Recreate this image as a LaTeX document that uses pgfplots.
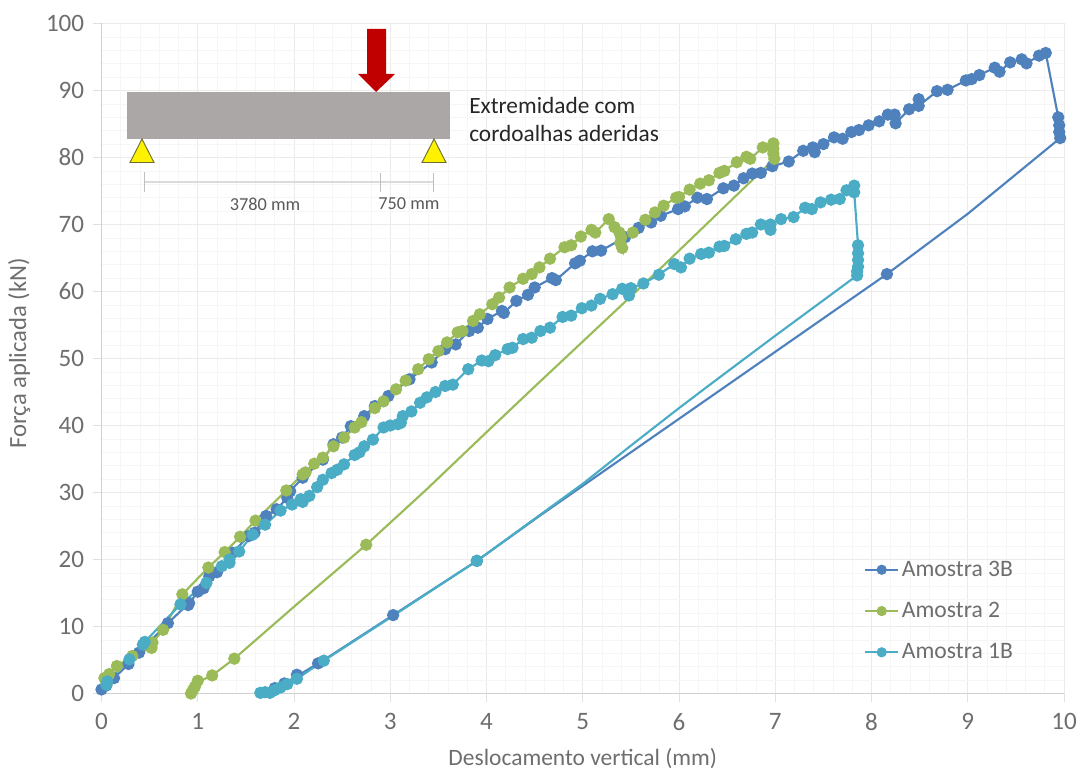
\documentclass[border=0pt]{standalone}
\usepackage{pgfplots}
\usepackage{fontspec}
\setmainfont{Carlito}
\pgfplotsset{compat=1.18}
\definecolor{txt}{HTML}{6E6E6E}
\definecolor{cA}{HTML}{4F81BD}
\definecolor{cB}{HTML}{9BBB59}
\definecolor{cC}{HTML}{4BACC6}
\definecolor{beam}{HTML}{ABA7A6}
\definecolor{arrowred}{HTML}{C00000}
\begin{document}
\begin{tikzpicture}[x=1pt,y=1pt]
\path[use as bounding box] (0,0) rectangle (810pt,578.25pt);
\begin{axis}[
  at={(76.125pt,58.125pt)},anchor=south west,
  scale only axis,width=721.9pt,height=502.5pt,
  xmin=0,xmax=10,ymin=0,ymax=100,
  xtick={0,...,10},ytick={0,10,...,100},
  minor tick num=4,
  grid=both,
  major grid style={draw=black!8,line width=0.7pt},
  minor grid style={draw=black!3.5,line width=0.5pt},
  tick align=outside,
  major tick length=6pt,minor tick length=0pt,
  tick style={draw=black!12,line width=0.7pt},
  axis x line*=bottom,axis y line*=left,
  axis line style={draw=black!18,line width=0.9pt,-},
  ticklabel style={text=txt,font=\fontsize{18.8}{20}\selectfont},
  /pgf/number format/assume math mode=true,
  x tick label style={yshift=-5.5pt},
  y tick label style={xshift=-3.5pt},
  xlabel={Deslocamento vertical (mm)},
  ylabel={Força aplicada (kN)},
  label style={text=txt},
  xlabel style={font=\fontsize{17.6}{19}\selectfont,yshift=-6pt},
  ylabel style={font=\fontsize{18.5}{20}\selectfont,yshift=5pt,xshift=4pt},
  legend style={at={(axis cs:7.92,20.2)},anchor=north west,draw=none,fill=none,
    row sep=14pt,font=\fontsize{17.7}{17.7}\selectfont,text=txt,
    cells={anchor=west},inner sep=0pt},
  legend image code/.code={
    \draw[#1,mark=none,line width=1.4pt] (0pt,0pt) -- (25pt,0pt);
    \path plot[#1,mark=*,mark size=3pt,mark options={solid}] coordinates {(12.5pt,0pt)};
  },
  every axis plot/.append style={line width=1.6pt,mark=*,mark size=3.8pt},
]
% Amostra 3B
\addplot[color=cA,mark options={fill=cA,draw=cA}] coordinates {
(0,0.6)(0.05,1.2)(0.13,2.3)(0.28,4.4)(0.39,6.1)(0.69,10.5)(0.91,13.5)(0.9,13.2)(1,15.2)(1.06,15.7)(1.12,17.5)(1.2,18.1)(1.36,21)(1.53,23.5)(1.59,24)(1.71,26.5)(1.82,27.5)(1.93,29.2)(1.96,30.2)(2.09,32.2)(2.3,34.9)(2.41,37.2)(2.5,38.2)(2.59,39.9)(2.73,41.4)(2.84,42.9)(2.98,44.4)(3.2,46.9)(3.43,49.4)(3.57,51.4)(3.68,52.1)(3.82,54.1)(3.91,54.6)(4.01,55.9)(4.16,57.1)(4.18,56.8)(4.31,58.6)(4.43,59.5)(4.5,60.6)(4.68,62)(4.72,61.7)(4.92,64.2)(4.97,64.6)(5.1,66)(5.19,66.1)(5.44,68.1)(5.58,69.5)(5.71,70.3)(5.81,71.3)(5.99,72.3)(6.06,72.7)(6.19,74)(6.29,73.8)(6.46,75.4)(6.57,75.8)(6.67,76.9)(6.76,77.6)(6.85,77.7)(6.97,78.7)(7.14,79.4)(7.29,81)(7.39,81.5)(7.41,80.8)(7.5,82)(7.61,83)(7.7,82.8)(7.79,83.8)(7.87,84.1)(7.97,84.8)(8.08,85.4)(8.17,86.4)(8.24,86.4)(8.25,85.1)(8.39,87.2)(8.49,88.7)(8.49,87.7)(8.68,89.9)(8.79,90.1)(8.98,91.5)(9.04,91.7)(9.12,92.3)(9.28,93.4)(9.33,92.8)(9.44,94.2)(9.56,94.65)(9.61,94.05)(9.74,95.2)(9.81,95.6)(9.94,86)(9.95,84.8)(9.95,83.8)(9.96,82.9)
};
\addlegendentry{Amostra 3B}
\addplot[color=cA,mark=none,forget plot] coordinates {
(9.96,82.9)(9,71.6)(8.16,62.6)(7,51)(6.5,46)(6,41)(5,31)(4.55,26.5)(3.9,19.8)(3.03,11.7)(2.31,5)(2.02,2.5)(1.9,1.5)(1.8,0.8)(1.72,0.2)
};
\addplot[only marks,color=cA,mark options={fill=cA,draw=cA},forget plot] coordinates {
(8.16,62.6)(3.9,19.8)(3.03,11.7)(2.25,4.5)(2.03,2.8)(1.9,1.5)(1.8,0.8)
};
% Amostra 2
\addplot[color=cB,mark options={fill=cB,draw=cB}] coordinates {
(0.03,2.3)(0.08,2.9)(0.16,4.1)(0.32,5.6)(0.52,6.8)(0.53,7.6)(0.64,9.5)(0.84,14.8)(1.11,18.8)(1.28,21.1)(1.44,23.4)(1.6,25.8)(1.92,30.3)(2.09,32.7)(2.12,33)(2.21,34.3)(2.3,35.2)(2.41,36.9)(2.52,38.2)(2.63,39.7)(2.7,40.5)(2.84,42.6)(2.93,43.6)(3.06,45.4)(3.16,46.7)(3.29,48.4)(3.4,49.9)(3.5,51.1)(3.59,52.4)(3.7,53.9)(3.75,54.1)(3.86,55.6)(3.93,56.6)(4.06,58.1)(4.13,59.1)(4.24,60.6)(4.38,61.9)(4.47,62.6)(4.55,63.6)(4.66,64.9)(4.81,66.6)(4.88,66.9)(4.98,68.2)(5.09,69.2)(5.13,68.8)(5.27,70.8)(5.33,69.6)(5.38,68.8)(5.39,67.3)(5.41,66.5)(5.4,68.1)(5.52,68.8)(5.65,70.7)(5.75,71.8)(5.84,72.8)(5.97,74)(6,74.1)(6.11,75.2)(6.22,76.1)(6.31,76.6)(6.42,77.7)(6.47,78)(6.6,79.3)(6.7,80.1)(6.74,79.8)(6.87,81.5)(6.98,82.1)(6.98,81.3)(6.98,80.6)(6.99,79.8)
};
\addlegendentry{Amostra 2}
\addplot[color=cB,mark=none,forget plot] coordinates {
(6.99,79.8)(5.79,63.2)(5.45,58.6)(4.5,45.8)(4,39)(3.38,30.5)(2.75,22.2)(2.02,13.2)(1.38,5.2)(1.15,2.7)(1,1.7)(0.95,0.5)(0.93,0)
};
\addplot[only marks,color=cB,mark options={fill=cB,draw=cB},forget plot] coordinates {
(2.75,22.2)(1.38,5.2)(1.15,2.7)(1,1.9)(0.97,1)(0.95,0.5)(0.93,0)
};
% Amostra 1B
\addplot[color=cC,mark options={fill=cC,draw=cC}] coordinates {
(0.05,1.3)(0.06,1.8)(0.29,5.1)(0.43,7.3)(0.45,7.7)(0.82,13.3)(1.09,16.5)(1.25,19)(1.33,20)(1.33,19.5)(1.43,21.2)(1.57,23.7)(1.7,25.2)(1.86,27.3)(1.98,28.2)(2.07,29)(2.09,28.6)(2.16,29.5)(2.24,30.8)(2.3,31.9)(2.39,32.9)(2.45,33.4)(2.52,34.2)(2.63,35.6)(2.68,36)(2.73,36.9)(2.82,37.9)(2.93,39.7)(3,40)(3.08,40.2)(3.11,40.4)(3.13,41.4)(3.22,42.1)(3.31,43.4)(3.38,44.2)(3.47,45)(3.57,45.9)(3.65,46.1)(3.81,48.4)(3.95,49.7)(4.02,49.6)(4.09,50.5)(4.22,51.4)(4.27,51.6)(4.38,52.9)(4.47,53.1)(4.56,54.1)(4.66,54.6)(4.79,56.2)(4.88,56.4)(4.99,57.5)(5.09,57.9)(5.18,58.9)(5.31,59.6)(5.41,60.4)(5.48,59.4)(5.5,60.5)(5.63,61.2)(5.79,62.5)(5.95,64.1)(6.02,63.6)(6.11,64.9)(6.23,65.6)(6.31,65.8)(6.42,66.7)(6.47,66.8)(6.59,67.8)(6.7,68.6)(6.76,68.8)(6.85,70)(6.95,69.2)(6.95,70)(7.06,70.8)(7.19,71.1)(7.31,72.5)(7.38,72.3)(7.47,73.3)(7.58,73.7)(7.67,73.8)(7.74,75.1)(7.82,75.8)(7.82,74.8)(7.86,66.9)(7.86,65.7)(7.86,64.7)(7.86,63.7)(7.85,63)(7.85,62.4)
};
\addlegendentry{Amostra 1B}
\addplot[color=cC,mark=none,forget plot] coordinates {
(7.85,62.4)(7,53.4)(6.34,46.3)(6,42.6)(5.5,37)(5,31.3)(4.55,26.6)(3.9,19.8)(3.03,11.6)(2.31,4.9)(2.03,2.2)(1.9,1.2)(1.8,0.5)(1.65,0.1)
};
\addplot[only marks,color=cC,mark options={fill=cC,draw=cC},forget plot] coordinates {
(3.9,19.8)(2.31,4.9)(2.03,2.2)(1.93,1.4)(1.86,0.9)(1.8,0.5)(1.75,0.1)(1.7,0.2)(1.65,0.1)
};
\end{axis}
\begin{scope}[x=0.75pt,y=-0.75pt,yshift=578.25pt]
\fill[beam] (127,92) rectangle (449.5,139);
\fill[arrowred] (367,29) -- (386,29) -- (386,74) -- (395,74) -- (376,92) -- (358,74) -- (367,74) -- cycle;
\foreach \xa in {142,434}{
  \fill[yellow,draw={rgb,255:red,110;green,110;blue,50},line width=0.7pt] (\xa,139) -- (\xa+12,162.5) -- (\xa-12,162.5) -- cycle;
}
\draw[black!14,line width=0.8pt] (144,182) -- (433,182);
\draw[black!25,line width=0.7pt] (144,172) -- (144,192) (380,173) -- (380,192) (433,173) -- (433,192);
\node[text=black!65,font=\fontsize{13.7}{14}\selectfont] at (265,204) {3780 mm};
\node[text=black!65,font=\fontsize{13.7}{14}\selectfont] at (409,204) {750 mm};
\node[anchor=west,inner sep=0pt,text=black!85,font=\fontsize{17.5}{18}\selectfont] at (469,105) {Extremidade com};
\node[anchor=west,inner sep=0pt,text=black!85,font=\fontsize{17.5}{18}\selectfont] at (469,133) {cordoalhas aderidas};
\end{scope}
\end{tikzpicture}
\end{document}
